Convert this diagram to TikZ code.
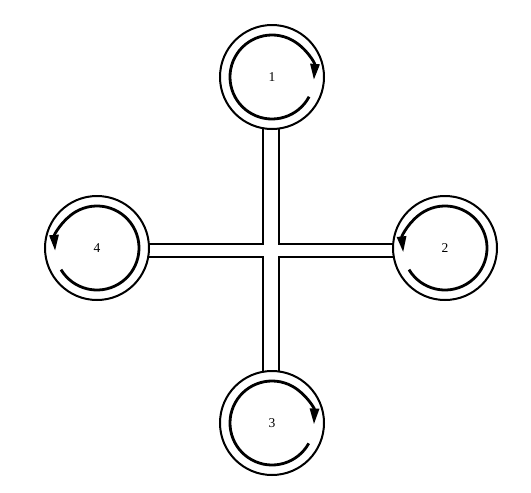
\documentclass[tikz,border=0pt]{standalone}
\usepackage{fontspec}
\setmainfont{Liberation Serif}
\usetikzlibrary{arrows.meta}
\tikzset{
  pipe/.style={line width=2pt},
  tank/.style={circle, draw, fill=white, line width=2pt, minimum size=104pt, inner sep=0pt,
    font=\fontsize{13.5}{15}\selectfont},
  swirl/.style={line width=2.8pt, -{Triangle[length=16pt,width=9pt]}}
}
\begin{document}
\begin{tikzpicture}[x=1pt,y=1pt]
\path[use as bounding box, fill=white] (0,0) rectangle (531,-493);
\coordinate (p1) at (272,-77);
\coordinate (p2) at (445,-248);
\coordinate (p3) at (272,-423);
\coordinate (p4) at (97,-248);
\coordinate (tl) at (263,-244);
\coordinate (tr) at (279,-244);
\coordinate (bl) at (263,-257);
\coordinate (br) at (279,-257);
% pipes
\draw[pipe] (p1 -| tl) -- (tl) -- (p4 |- tl);
\draw[pipe] (p1 -| tr) -- (tr) -- (p2 |- tr);
\draw[pipe] (p3 -| bl) -- (bl) -- (p4 |- bl);
\draw[pipe] (p3 -| br) -- (br) -- (p2 |- br);
% tanks
\node[tank] (c1) at (p1) {1};
\node[tank] (c2) at (p2) {2};
\node[tank] (c3) at (p3) {3};
\node[tank] (c4) at (p4) {4};
% rotation arrows
\draw[swirl] ([shift={(-28:42pt)}]c1.center) arc[start angle=-28, end angle=-364, radius=42pt];
\draw[swirl] ([shift={(-29:42pt)}]c3.center) arc[start angle=-29, end angle=-362, radius=42pt];
\draw[swirl] ([shift={(211:42pt)}]c2.center) arc[start angle=211, end angle=546, radius=42pt];
\draw[swirl] ([shift={(211:42pt)}]c4.center) arc[start angle=211, end angle=544, radius=42pt];
\end{tikzpicture}
\end{document}
